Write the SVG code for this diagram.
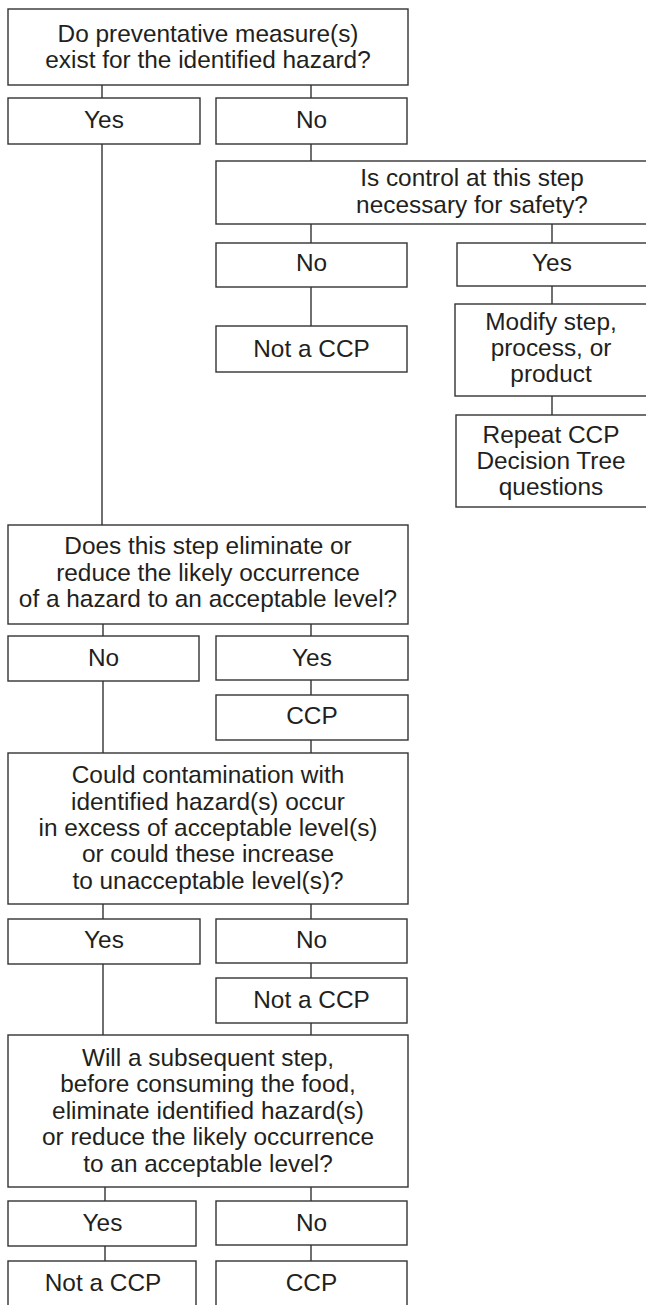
<svg xmlns="http://www.w3.org/2000/svg" width="646" height="1305" viewBox="0 0 646 1305">
<style>
rect{fill:#fff;stroke:#333;stroke-width:1.4}
#connectors line{stroke:#333;stroke-width:1.4}
text{font-family:"Liberation Sans",Arial,sans-serif;font-size:24.4px;fill:#231f20;text-anchor:middle}
</style>
<rect x="0" y="0" width="646" height="1305" style="fill:#fff;stroke:none"/>
<g id="connectors">
<line x1="102" y1="85" x2="102" y2="98"/>
<line x1="311" y1="85" x2="311" y2="98"/>
<line x1="102" y1="144" x2="102" y2="525"/>
<line x1="311" y1="144" x2="311" y2="161"/>
<line x1="311" y1="224" x2="311" y2="243"/>
<line x1="552" y1="224" x2="552" y2="243"/>
<line x1="311" y1="287" x2="311" y2="326"/>
<line x1="552" y1="286" x2="552" y2="304"/>
<line x1="552" y1="396" x2="552" y2="415"/>
<line x1="103" y1="624" x2="103" y2="636"/>
<line x1="311" y1="624" x2="311" y2="636"/>
<line x1="103" y1="681" x2="103" y2="753"/>
<line x1="311" y1="680" x2="311" y2="695"/>
<line x1="311" y1="740" x2="311" y2="753"/>
<line x1="103" y1="904" x2="103" y2="919"/>
<line x1="311" y1="904" x2="311" y2="919"/>
<line x1="103" y1="964" x2="103" y2="1035"/>
<line x1="311" y1="963" x2="311" y2="978"/>
<line x1="311" y1="1023" x2="311" y2="1035"/>
<line x1="105" y1="1187" x2="105" y2="1201"/>
<line x1="311" y1="1187" x2="311" y2="1201"/>
<line x1="105" y1="1246" x2="105" y2="1261"/>
<line x1="311" y1="1245" x2="311" y2="1261"/>
</g>
<g id="q1"><rect x="8" y="9" width="400" height="76"/><text x="208" y="41.7">Do preventative measure(s)</text><text x="208" y="68.3">exist for the identified hazard?</text></g>
<g id="q1-yes"><rect x="8" y="98" width="192" height="46"/><text x="104" y="128">Yes</text></g>
<g id="q1-no"><rect x="216" y="98" width="191" height="46"/><text x="311.5" y="128">No</text></g>
<g id="q1b"><rect x="216" y="161" width="512" height="63"/><text x="472" y="186">Is control at this step</text><text x="472" y="212.7">necessary for safety?</text></g>
<g id="q1b-no"><rect x="216" y="243" width="191" height="44"/><text x="311.5" y="270.5">No</text></g>
<g id="q1b-yes"><rect x="457" y="243" width="192" height="43"/><text x="552" y="270.5">Yes</text></g>
<g id="not-ccp-1"><rect x="216" y="326" width="191" height="46"/><text x="311.5" y="357">Not a CCP</text></g>
<g id="modify"><rect x="455" y="304" width="194" height="92"/><text x="551" y="329.5">Modify step,</text><text x="551" y="356">process, or</text><text x="551" y="382">product</text></g>
<g id="repeat"><rect x="456" y="415" width="193" height="92"/><text x="551" y="442.7">Repeat CCP</text><text x="551" y="468.5">Decision Tree</text><text x="551" y="494.5">questions</text></g>
<g id="q2"><rect x="8" y="525" width="400" height="99"/><text x="208" y="554.3">Does this step eliminate or</text><text x="208" y="580.7">reduce the likely occurrence</text><text x="208" y="606.9">of a hazard to an acceptable level?</text></g>
<g id="q2-no"><rect x="8" y="636" width="191" height="45"/><text x="103.5" y="666">No</text></g>
<g id="q2-yes"><rect x="216" y="636" width="192" height="44"/><text x="312" y="666">Yes</text></g>
<g id="ccp-1"><rect x="216" y="695" width="192" height="45"/><text x="312" y="723.5">CCP</text></g>
<g id="q3"><rect x="8" y="753" width="400" height="151"/><text x="208" y="783.3">Could contamination with</text><text x="208" y="809.6">identified hazard(s) occur</text><text x="208" y="835.9">in excess of acceptable level(s)</text><text x="208" y="862.2">or could these increase</text><text x="208" y="888.5">to unacceptable level(s)?</text></g>
<g id="q3-yes"><rect x="8" y="919" width="192" height="45"/><text x="104" y="948.3">Yes</text></g>
<g id="q3-no"><rect x="216" y="919" width="191" height="44"/><text x="311.5" y="948.3">No</text></g>
<g id="not-ccp-2"><rect x="216" y="978" width="191" height="45"/><text x="311.5" y="1008.3">Not a CCP</text></g>
<g id="q4"><rect x="8" y="1035" width="400" height="152"/><text x="208" y="1065.7">Will a subsequent step,</text><text x="208" y="1092.2">before consuming the food,</text><text x="208" y="1118.7">eliminate identified hazard(s)</text><text x="208" y="1145.2">or reduce the likely occurrence</text><text x="208" y="1171.7">to an acceptable level?</text></g>
<g id="q4-yes"><rect x="8" y="1201" width="188" height="45"/><text x="102.5" y="1231">Yes</text></g>
<g id="q4-no"><rect x="216" y="1201" width="191" height="44"/><text x="311.5" y="1231">No</text></g>
<g id="not-ccp-3"><rect x="8" y="1261" width="188" height="60"/><text x="103" y="1290.7">Not a CCP</text></g>
<g id="ccp-2"><rect x="216" y="1261" width="191" height="60"/><text x="311.5" y="1290.7">CCP</text></g>
</svg>
